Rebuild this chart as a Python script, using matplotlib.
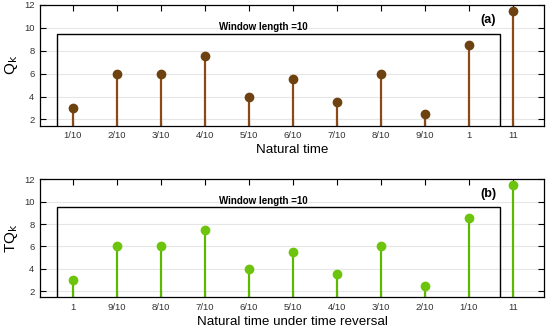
import numpy as np
import matplotlib
matplotlib.use("Agg")
import matplotlib.pyplot as plt
from matplotlib.patches import Rectangle

plt.rcParams['font.family'] = ['Liberation Sans', 'DejaVu Sans']

# data
q_values = [3, 6, 6, 7.5, 4, 5.5, 3.5, 6, 2.5, 8.5, 11.5]
labels_a = ['1/10', '2/10', '3/10', '4/10', '5/10', '6/10', '7/10', '8/10', '9/10', '1', '11']
labels_b = ['1', '9/10', '8/10', '7/10', '6/10', '5/10', '4/10', '3/10', '2/10', '1/10', '11']
window_len = 10

x = np.arange(1, len(q_values) + 1)

fig = plt.figure(figsize=(5.5, 3.32), dpi=100)
ax1 = fig.add_axes([40 / 550, 1 - 125.7 / 332, 504 / 550, 120.7 / 332])
ax2 = fig.add_axes([40 / 550, 1 - 297.3 / 332, 504 / 550, 118 / 332])


def panel(ax, labels, xlabel, ylabel, tag, stem_col, mark_col):
    for v in [2, 4, 6, 8, 10]:
        ax.axhline(v, color='#e6e6e6', lw=0.8, zorder=0)
    ax.vlines(x, 0, q_values, color=stem_col, lw=1.6, zorder=2)
    ax.plot(x, q_values, 'o', ms=6, color=mark_col, zorder=3)
    ax.add_patch(Rectangle((0.65, 0), window_len + 0.06, 9.5, fill=False,
                           ec='black', lw=1.0, zorder=4))
    ax.text(5.34, 9.6, 'Window length =%d' % window_len, fontsize=7,
            fontweight='bold', ha='center', va='bottom')
    ax.text(10.45, 10.7, tag, fontsize=9, fontweight='bold', ha='center', va='center')
    ax.set_xlim(0.26, 11.71)
    ax.set_ylim(1.45, 12)
    ax.set_xticks(x)
    ax.set_xticklabels(labels, fontsize=6.8, color='#333333')
    ax.set_yticks([2, 4, 6, 8, 10, 12])
    ax.tick_params(axis='y', labelsize=6.8, labelcolor='#333333')
    ax.tick_params(direction='in', top=True, right=True, length=4, width=0.8, pad=4)
    ax.set_xlabel(xlabel, fontsize=9.6, labelpad=3)
    ax.set_ylabel(ylabel, fontsize=11, labelpad=3)
    for s in ax.spines.values():
        s.set_linewidth(0.9)


panel(ax1, labels_a, 'Natural time', r'Q$_\mathrm{k}$', '(a)', '#8b4a16', '#6e4210')
panel(ax2, labels_b, 'Natural time under time reversal', r'TQ$_\mathrm{k}$', '(b)',
      '#5cb800', '#6cc40c')

fig.savefig('out.png', dpi=100)
